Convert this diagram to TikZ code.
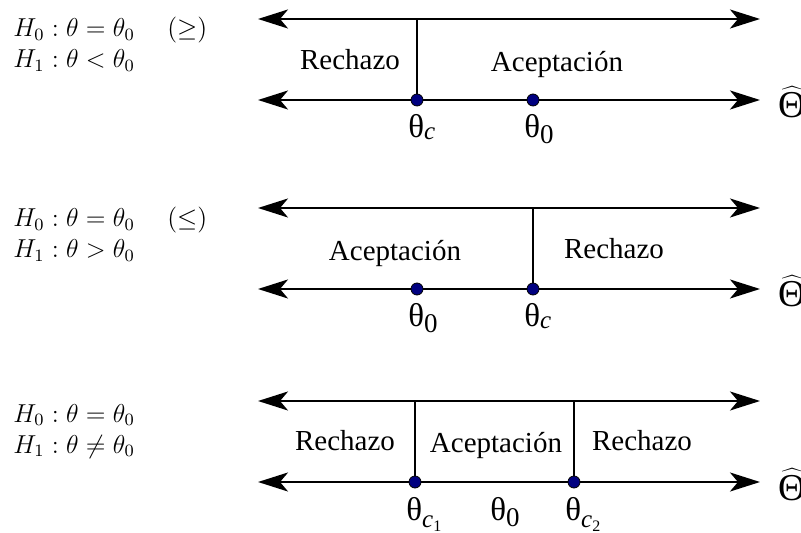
\documentclass[tikz,border=0pt]{standalone}
\usepackage{amsmath,amssymb}
\usepackage{graphicx}
\usepackage{fontspec}
\usepackage{tikz}
\usetikzlibrary{arrows.meta, positioning}
\newfontfamily\tnr{Liberation Serif}

% theta labels: upright theta with a subscript
\newcommand{\thz}{{\fontsize{16.5}{18}\selectfont θ}\raisebox{-3pt}{\fontsize{13.5}{14}\selectfont 0}}
\newcommand{\thc}{{\fontsize{16.5}{18}\selectfont θ}\raisebox{-1pt}{\fontsize{12.5}{13}\selectfont\itshape c}}
\newcommand{\thci}[1]{{\fontsize{16.5}{18}\selectfont θ}\raisebox{-3.5pt}{\fontsize{12.5}{13}\selectfont\itshape c\raisebox{-2pt}{\fontsize{8}{9}\selectfont\upshape #1}}}
\newcommand{\esthat}{$\widehat{\hbox{\tnr\fontsize{19}{20}\selectfont Θ}}$}
\newcommand{\hyptext}[1]{\scalebox{1.08}{$#1$}}

\begin{document}
\begin{tikzpicture}[
    x=0.5pt, y=-0.5pt,
    axis/.style={{Stealth[length=15pt, width=9.5pt, inset=4pt]}-{Stealth[length=15pt, width=9.5pt, inset=4pt]}, line width=1.1pt},
    cut/.style={line width=1.1pt},
    pt/.style={circle, draw=black, fill=blue!50!black, line width=0.4pt, minimum size=6pt, inner sep=0pt},
    region/.style={anchor=base, inner sep=0pt, font=\tnr\fontsize{14.5}{16}\selectfont},
    thlab/.style={anchor=base west, inner sep=0pt, font=\tnr},
    hyp/.style={anchor=base west, inner sep=0pt, font=\fontsize{12}{14}\selectfont},
    est/.style={anchor=base west, inner sep=0pt},
]
\useasboundingbox (0,0) rectangle (801,533);

% === Test 1: H1 theta < theta0 ===
\node[hyp] (h01) at (13,37) {\hyptext{H_0:\theta=\theta_0\hspace{15pt}(\geq)}};
\node[hyp] (h11) at (13,68) {\hyptext{H_1:\theta<\theta_0}};

\coordinate (ul1) at (258,19);  \coordinate (ur1) at (760,19);
\coordinate (ll1) at (258,100); \coordinate (lr1) at (760,100);
\coordinate (top1) at (417,19);
\draw[axis] (ul1) -- (ur1);
\draw[axis] (ll1) -- (lr1);
\node[pt] (c1) at (417,100) {};
\node[pt] (o1) at (533,100) {};
\draw[cut] (top1) -- (c1);

\node[region] (rej1) at (350,70) {Rechazo};
\node[region] (acc1) at (557,72) {Aceptación};
\node[thlab] (lc1) at (408,138) {\thc};
\node[thlab] (lo1) at (524,138) {\thz};
\node[est] (e1) at (778,118) {\esthat};

% === Test 2: H1 theta > theta0 ===
\node[hyp] (h02) at (13,227) {\hyptext{H_0:\theta=\theta_0\hspace{15pt}(\leq)}};
\node[hyp] (h12) at (13,258) {\hyptext{H_1:\theta>\theta_0}};

\coordinate (ul2) at (258,208); \coordinate (ur2) at (760,208);
\coordinate (ll2) at (258,289); \coordinate (lr2) at (760,289);
\coordinate (top2) at (533,208);
\draw[axis] (ul2) -- (ur2);
\draw[axis] (ll2) -- (lr2);
\node[pt] (o2) at (417,289) {};
\node[pt] (c2) at (533,289) {};
\draw[cut] (top2) -- (c2);

\node[region] (acc2) at (395,261) {Aceptación};
\node[region] (rej2) at (614,259) {Rechazo};
\node[thlab] (lo2) at (408,327) {\thz};
\node[thlab] (lc2) at (524,327) {\thc};
\node[est] (e2) at (778,307) {\esthat};

% === Test 3: two-sided ===
\node[hyp] (h03) at (13,422) {\hyptext{H_0:\theta=\theta_0}};
\node[hyp] (h13) at (13,453) {\hyptext{H_1:\theta\neq\theta_0}};

\coordinate (ul3) at (258,401); \coordinate (ur3) at (760,401);
\coordinate (ll3) at (258,482); \coordinate (lr3) at (760,482);
\coordinate (topa3) at (415,401);
\coordinate (topb3) at (574,401);
\draw[axis] (ul3) -- (ur3);
\draw[axis] (ll3) -- (lr3);
\node[pt] (ca3) at (415,482) {};
\node[pt] (cb3) at (574,482) {};
\draw[cut] (topa3) -- (ca3);
\draw[cut] (topb3) -- (cb3);

\node[region] (rejA3) at (345,450) {Rechazo};
\node[region] (acc3) at (496,452) {Aceptación};
\node[region] (rejB3) at (642,450) {Rechazo};
\node[thlab] (lca3) at (406,520) {\thci{1}};
\node[thlab] (lo3) at (490,520) {\thz};
\node[thlab] (lcb3) at (565,520) {\thci{2}};
\node[est] (e3) at (778,500) {\esthat};

\end{tikzpicture}
\end{document}
